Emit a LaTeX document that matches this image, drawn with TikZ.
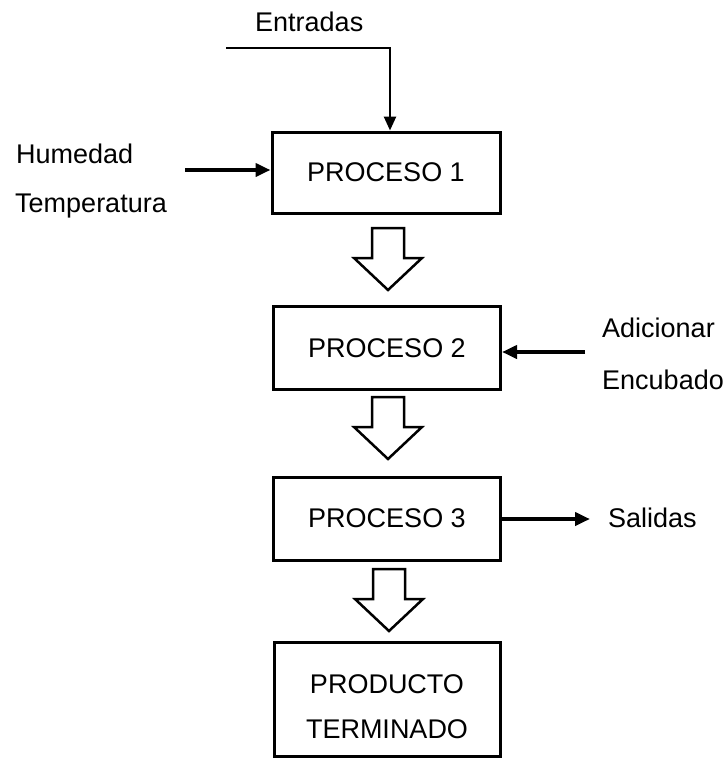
\documentclass[tikz,border=0pt]{standalone}
\usepackage{fontspec}
\setmainfont{Liberation Sans}
\usetikzlibrary{arrows.meta,calc}
\begin{document}
\begin{tikzpicture}[x=1pt,y=-1pt,
  font=\fontsize{27}{32}\selectfont,
  box/.style={draw, line width=3pt, rectangle, inner sep=0pt, align=center},
  lbl/.style={anchor=base west, inner sep=0pt},
  thinarrow/.style={line width=2.5pt, -{Triangle[length=14pt,width=12pt]}},
  thickarrow/.style={line width=4pt, -{Triangle[length=15pt,width=13pt]}},
  blockarr/.pic={\draw[line width=2.5pt, line join=miter, fill=white]
     (-16,0) -- (16,0) -- (16,30) -- (34,30) -- (0,62) -- (-34,30) -- (-16,30) -- cycle;}]
\useasboundingbox (0,0) rectangle (728,758);

% boxes
\node[box, minimum width=228pt, minimum height=81pt] (p1) at (386,172.5) {PROCESO 1};
\node[box, minimum width=227pt, minimum height=83pt] (p2) at (387,348) {PROCESO 2};
\node[box, minimum width=227pt, minimum height=83pt] (p3) at (387,518.5) {PROCESO 3};
\node[box, minimum width=226pt, minimum height=114pt] (p4) at (387,699.5) {};
\node[anchor=base, inner sep=0pt] (p4a) at (387,693) {PRODUCTO};
\node[anchor=base, inner sep=0pt] (p4b) at (387,738) {TERMINADO};

% block arrows between boxes
\pic at (388,228) {blockarr};
\pic at (388,397) {blockarr};
\pic at (389,569) {blockarr};

% labels
\node[lbl] (ent) at (255,31) {Entradas};
\node[lbl] (hum) at (16,163) {Humedad};
\node[lbl] (tem) at (15,212) {Temperatura};
\node[lbl] (adi) at (602,337) {Adicionar};
\node[lbl] (enc) at (602,389) {Encubado};
\node[lbl] (sal) at (608,527) {Salidas};

% connectors
\coordinate (ein) at (226,48);
\draw[thinarrow] (ein) -| ([xshift=4pt]p1.north);
\coordinate (hin) at (185,170);
\draw[thickarrow] (hin) -- (hin -| p1.west);
\coordinate (ain) at (585,352);
\draw[thickarrow] (ain) -- (ain -| p2.east);
\coordinate (sout) at (590,519);
\draw[thickarrow] (sout -| p3.east) -- (sout);
\end{tikzpicture}
\end{document}
